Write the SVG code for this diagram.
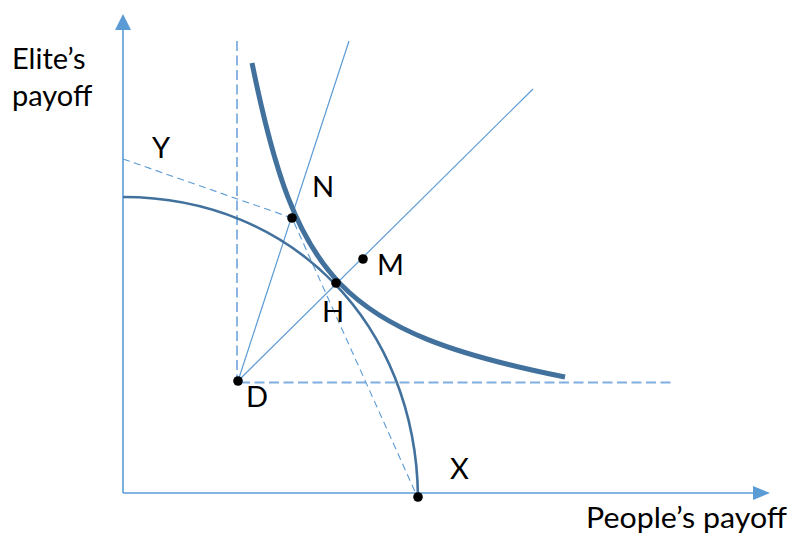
<svg xmlns="http://www.w3.org/2000/svg" width="790" height="535" viewBox="0 0 790 535">
<style>
  .lbl { font-family: Lato, "Liberation Sans", Arial, sans-serif; font-size: 29px; fill: #000; }
  .axis { stroke: #5B9BD5; stroke-width: 1.6; fill: none; }
  .ray { stroke: #5B9BD5; stroke-width: 1.2; fill: none; }
  .dash { stroke: #7FAEE0; stroke-width: 1.8; stroke-dasharray: 10 4.5; fill: none; }
  .dashthin { stroke: #5B9BD5; stroke-width: 1.1; stroke-dasharray: 7 4.5; fill: none; }
  .curve { stroke: #41719C; fill: none; }
  .dot { fill: #000; }
  .head { fill: #5B9BD5; }
</style>
<rect width="790" height="535" fill="#fff"/>
<g id="connectors">
  <!-- axes -->
  <line class="axis" x1="123" y1="493" x2="123" y2="29"/>
  <polygon class="head" points="123,14 131,30 115,30"/>
  <line class="axis" x1="123" y1="493" x2="754" y2="493"/>
  <polygon class="head" points="770,493 753,486 753,500"/>
  <!-- dashed guides -->
  <line class="dash" x1="237" y1="41" x2="237" y2="380"/>
  <line class="dash" x1="240" y1="382.5" x2="672" y2="382.5"/>
  <polyline class="dashthin" points="123,159 292,218 417,496"/>
  <!-- rays from D -->
  <line class="ray" x1="238" y1="381" x2="349" y2="41"/>
  <line class="ray" x1="238" y1="381" x2="533" y2="89"/>
  <!-- frontier -->
  <path class="curve" stroke-width="2.6" d="M123,197 C294,197 416,326 418,497"/>
  <!-- indifference curve -->
  <path class="curve" stroke-width="5" d="M252,63 C296,279 340,332 565,377"/>
</g>
<g id="axis-labels">
  <text class="lbl" x="12" y="69">Elite’s</text>
  <text class="lbl" x="12" y="106">payoff</text>
  <text class="lbl" x="586" y="528" textLength="201" lengthAdjust="spacingAndGlyphs">People’s payoff</text>
</g>
<g id="node-Y"><text class="lbl" x="152" y="158">Y</text></g>
<g id="node-N"><circle class="dot" cx="292" cy="218" r="4.8"/><text class="lbl" x="312" y="197">N</text></g>
<g id="node-M"><circle class="dot" cx="363" cy="259" r="4.8"/><text class="lbl" x="377" y="275">M</text></g>
<g id="node-H"><circle class="dot" cx="336" cy="283" r="4.8"/><text class="lbl" x="322" y="322">H</text></g>
<g id="node-D"><circle class="dot" cx="238" cy="381" r="4.8"/><text class="lbl" x="246" y="407">D</text></g>
<g id="node-X"><circle class="dot" cx="418" cy="497" r="4.8"/><text class="lbl" x="450" y="479">X</text></g>
</svg>
